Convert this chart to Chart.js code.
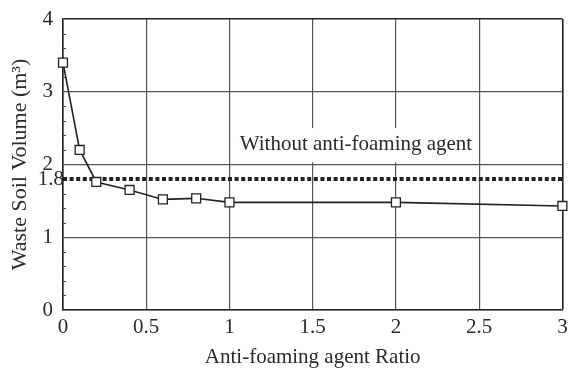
<!DOCTYPE html>
<html>
<head>
<meta charset="utf-8">
<style>
  html, body { margin: 0; padding: 0; background: #fff; }
  #wrap { width: 570px; height: 370px; }
</style>
<script src="https://cdn.jsdelivr.net/npm/chart.js@4/dist/chart.umd.min.js"></script>
</head>
<body>
<div id="wrap"><canvas id="c" width="570" height="370"></canvas></div>
<script>
// Anti-foaming agent ratio vs. waste soil volume
const ratios  = [0, 0.1, 0.2, 0.4, 0.6, 0.8, 1.0, 2.0, 3.0];
const volumes = [3.4, 2.2, 1.76, 1.65, 1.52, 1.535, 1.48, 1.48, 1.43];

// Reference level without anti-foaming agent
const refRatios = [0, 3];
const refVolume = 1.8;
const refLabel = 'Without anti-foaming agent';

const xTicks = [0, 0.5, 1, 1.5, 2, 2.5, 3];
const yTicks = [0, 1, 2, 3, 4];

const FONT = 'Liberation Serif, Times New Roman, serif';
const TEXT = '#2a2a2a';

const mainPoints = ratios.map((r, i) => ({ x: r, y: volumes[i] }));
const refPoints = refRatios.map(r => ({ x: r, y: refVolume }));

// Extra artwork: minor ticks, boxed label, and the 1.8 tick label
const extras = {
  id: 'extras',
  beforeDatasetsDraw(chart) {
    const { ctx, scales: { x, y } } = chart;
    ctx.save();
    // white box behind the reference-level label
    const x0 = x.getPixelForValue(1.0) + 1.5;
    const x1 = x.getPixelForValue(2.5) - 1.5;
    const yTop = y.getPixelForValue(2.5);
    const yBot = y.getPixelForValue(2.03);
    ctx.fillStyle = '#fff';
    ctx.fillRect(x0, yTop, x1 - x0, yBot - yTop);
    ctx.fillStyle = TEXT;
    ctx.font = '21px ' + FONT;
    ctx.textAlign = 'center';
    ctx.textBaseline = 'middle';
    ctx.fillText(refLabel, x.getPixelForValue(1.76), y.getPixelForValue(2.27));

    // minor ticks on the left axis
    ctx.strokeStyle = '#444';
    ctx.lineWidth = 1;
    const left = x.getPixelForValue(0);
    for (let v = 0.2; v < 4; v += 0.2) {
      if (Math.abs(v - Math.round(v)) < 1e-6) continue;
      const py = Math.round(y.getPixelForValue(v)) + 0.5;
      ctx.beginPath();
      ctx.moveTo(left, py);
      ctx.lineTo(left + 3, py);
      ctx.stroke();
    }

    // tick label for the reference level
    ctx.font = '21px ' + FONT;
    ctx.textAlign = 'right';
    ctx.textBaseline = 'middle';
    ctx.fillText(String(refVolume), left + 1, y.getPixelForValue(refVolume));
    ctx.restore();
  }
};

new Chart(document.getElementById('c'), {
  type: 'scatter',
  data: {
    datasets: [
      {
        data: refPoints,
        showLine: true,
        borderColor: '#222',
        borderWidth: 4,
        borderDash: [4, 2.6],
        pointRadius: 0,
        order: 2
      },
      {
        data: mainPoints,
        showLine: true,
        clip: false,
        borderColor: '#222',
        borderWidth: 1.6,
        pointStyle: 'rect',
        pointRadius: 6.3,
        pointBackgroundColor: '#fff',
        pointBorderColor: '#222',
        pointBorderWidth: 1.3,
        order: 1
      }
    ]
  },
  plugins: [extras],
  options: {
    responsive: false,
    animation: false,
    events: [],
    layout: { padding: { top: 19, right: 6, left: 0, bottom: 0 } },
    plugins: { legend: { display: false }, tooltip: { enabled: false } },
    scales: {
      x: {
        type: 'linear',
        min: 0, max: 3,
        afterBuildTicks: s => { s.ticks = xTicks.map(v => ({ value: v })); },
        afterFit: s => { s.height = 60; s.paddingLeft = 0; s.paddingRight = 0; },
        ticks: {
          font: { family: FONT, size: 21 },
          color: TEXT,
          padding: 5,
          maxRotation: 0,
          callback: v => String(v)
        },
        grid: {
          color: c => (c.tick && c.tick.value === 3 ? '#222' : '#555'),
          lineWidth: c => (c.tick && c.tick.value === 3 ? 1.6 : 1.2),
          drawTicks: false
        },
        border: { color: '#222', width: 1.6 },
        title: {
          display: true,
          text: 'Anti-foaming agent Ratio',
          font: { family: FONT, size: 21 },
          color: TEXT,
          padding: { top: 0, bottom: 0 }
        }
      },
      y: {
        type: 'linear',
        min: 0, max: 4,
        afterBuildTicks: s => { s.ticks = yTicks.map(v => ({ value: v })); },
        afterFit: s => { s.width = 63; s.paddingTop = 0; s.paddingBottom = 0; },
        ticks: {
          font: { family: FONT, size: 21 },
          color: TEXT,
          padding: 10,
          callback: v => String(v)
        },
        grid: {
          color: c => (c.tick && c.tick.value === 4 ? '#222' : '#555'),
          lineWidth: c => (c.tick && c.tick.value === 4 ? 1.6 : 1.2),
          drawTicks: false
        },
        border: { color: '#222', width: 1.6 },
        title: {
          display: true,
          text: 'Waste Soil Volume (m³)',
          font: { family: FONT, size: 22 },
          color: TEXT,
          padding: { top: 7, bottom: 0 }
        }
      }
    }
  }
});
</script>
</body>
</html>
